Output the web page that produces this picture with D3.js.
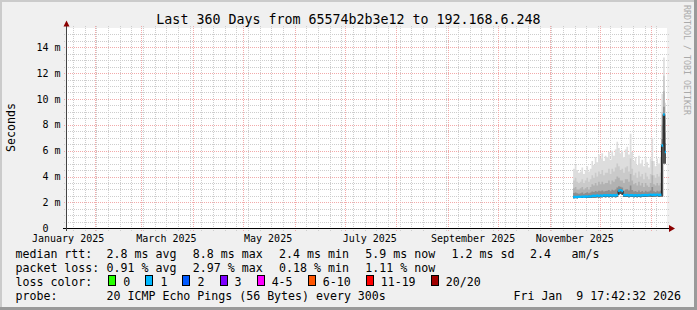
<!DOCTYPE html>
<html><head><meta charset="utf-8">
<script src="https://cdn.jsdelivr.net/npm/d3@7/dist/d3.min.js"></script>
<style>
html,body{margin:0;padding:0;background:#f0f0f0;}
svg{display:block;font-family:"DejaVu Sans Mono",monospace;}
text{white-space:pre;}
</style></head><body>
<svg id="svg" width="697" height="310"></svg>
<script>
// --- data (ms), one value per day from 2025-11-15 ---
var firstDay = "2025-11-15";
var lo  = [2.33,2.34,2.33,2.35,2.34,2.35,2.34,2.36,2.35,2.36,2.35,2.38,2.39,2.38,2.40,2.39,2.41,2.40,2.42,2.40,2.43,2.41,2.42,2.40,2.43,2.41,2.44,2.62,2.66,2.60,2.44,2.42,2.43,2.41,2.43,2.42,2.40,2.42,2.41,2.42,2.40,2.43,2.42,2.44,2.43,2.45,2.46,2.44,2.46,2.45,2.47,2.44,2.46,2.45,5.0,5.0];
var med = [2.42,2.43,2.42,2.44,2.43,2.45,2.44,2.46,2.45,2.47,2.46,2.50,2.52,2.50,2.53,2.51,2.54,2.52,2.55,2.53,2.56,2.54,2.55,2.53,2.56,2.54,2.57,2.90,2.95,2.88,2.58,2.55,2.57,2.54,2.56,2.55,2.53,2.56,2.54,2.55,2.53,2.56,2.55,2.57,2.56,2.58,2.60,2.57,2.59,2.58,2.60,2.57,2.59,6.4,8.8,5.9];
var p60 = [2.72,2.76,2.7,2.68,2.7,2.76,2.68,2.72,2.78,2.7,2.76,2.84,2.8,2.88,2.82,2.9,2.86,2.92,2.84,2.88,2.9,2.96,2.86,2.98,2.92,3.0,3.15,3.25,3.22,3.15,2.9,3.0,3.02,2.92,3.3,2.96,2.84,2.88,2.8,2.92,2.8,2.88,2.78,2.9,2.82,2.84,2.92,3.2,2.86,2.8,2.9,2.84,2.92,6.9,9.4,6.6];
var p75 = [3.1,3.2,3.0,3.0,3.1,3.2,3.0,3.1,3.2,3.0,3.2,3.4,3.3,3.5,3.3,3.6,3.4,3.6,3.4,3.5,3.5,3.7,3.4,3.7,3.6,3.8,4.0,3.9,3.7,3.7,3.5,3.8,3.8,3.6,4.2,3.7,3.4,3.5,3.3,3.6,3.3,3.5,3.2,3.5,3.3,3.2,3.5,4.1,3.4,3.3,3.5,3.3,3.5,8.0,10.6,7.4];
var p90 = [3.7,3.9,3.6,3.5,3.6,3.8,3.5,3.7,3.9,3.6,3.8,4.1,3.9,4.3,4.0,4.4,4.2,4.5,4.1,4.3,4.3,4.6,4.2,4.6,4.4,4.7,5.0,4.8,4.5,4.6,4.3,4.7,4.8,4.4,5.4,4.6,4.1,4.3,3.9,4.4,4.0,4.2,3.8,4.3,4.0,3.8,4.2,5.2,4.1,3.9,4.2,4.0,4.3,9.0,11.8,8.4];
var max = [4.6,4.9,4.5,4.3,4.4,4.7,4.2,4.5,4.8,4.4,4.6,5.2,4.9,5.5,5.1,5.7,5.4,5.8,5.2,5.6,5.5,5.9,5.3,6.0,5.6,6.1,6.7,6.2,5.8,6.0,5.5,6.1,6.3,5.7,7.3,5.9,5.2,5.5,4.9,5.6,5.0,5.3,4.8,5.5,5.1,4.7,5.4,7.0,5.2,4.8,5.4,5.0,5.5,10.4,13.2,9.7];

var yTicks = [0, 2, 4, 6, 8, 10, 12, 14];
var xLabelMonths = ["2025-01-01","2025-03-01","2025-05-01","2025-07-01","2025-09-01","2025-11-01"];

var rttNames = ["avg","max","min","now","sd"], rttStats = [2.8, 8.8, 2.4, 5.9, 1.2], amS = 2.4;
var lossNames = ["avg","max","min","now"], lossStats = [0.91, 2.97, 0.18, 1.11];
var lossLabels = ["0","1","2","3","4-5","6-10","11-19","20/20"],
    lossColors = ["#26ff00","#00b8ff","#0059ff","#7e00ff","#ff00ff","#ff5500","#ff0000","#a00000"];

var title = "Last 360 Days from 65574b2b3e12 to 192.168.6.248",
    probe = "20 ICMP Echo Pings (56 Bytes) every 300s",
    stamp = "Fri Jan  9 17:42:32 2026";

// small stand-in for d3-selection-multi
d3.selection.prototype.attrs = function(m) {
    return this.each(function(d, i, g) {
        var o = typeof m === "function" ? m.call(this, d, i, g) : m, s = d3.select(this);
        for (var k in o) s.attr(k, o[k]);
    });
};

// --- layout ---
var svg = d3.select("#svg");
var tEnd = new Date("2026-01-09T17:42:32Z"),
    tStart = d3.utcDay.offset(tEnd, -360);
var x = d3.scaleUtc().domain([tStart, tEnd]).range([66, 666]),
    y = d3.scaleLinear().domain([0, 15.5]).range([228.3, 27.8]);
var px = v => Math.round(v) + 0.5;

svg.append("rect").attrs({width:697, height:310, fill:"#f0f0f0"});
svg.append("rect").attrs({width:697, height:2, fill:"#cbcbcb"});
svg.append("rect").attrs({width:2, height:310, fill:"#cbcbcb"});
svg.append("rect").attrs({y:307, width:697, height:3, fill:"#9a9a9a"});
svg.append("rect").attrs({x:694, width:3, height:310, fill:"#9a9a9a"});
svg.append("rect").attrs({x:66, y:28, width:601, height:200, fill:"#fff"});

// grid
var grid = svg.append("g").attr("shape-rendering","crispEdges").attr("stroke-dasharray","1,1");
var months = d3.utcMonth.range(d3.utcMonth.ceil(tStart), tEnd),
    weeks = d3.utcSunday.range(tStart, tEnd).filter(d => d.getUTCDate() !== 1);
var minorY = d3.range(0.5, 15.5, 0.5).filter(v => v % 2 !== 0);
grid.selectAll(".hm").data(minorY).enter().append("line")
    .attrs(v => ({x1:64, x2:669, y1:px(y(v)), y2:px(y(v)), stroke:"#cdcdcd"}));
grid.selectAll(".vm").data(weeks).enter().append("line")
    .attrs(d => ({y1:26, y2:231, x1:px(x(d)), x2:px(x(d)), stroke:"#cdcdcd"}));
grid.selectAll(".hM").data(yTicks.filter(v => v > 0)).enter().append("line")
    .attrs(v => ({x1:64, x2:669, y1:px(y(v)), y2:px(y(v)), stroke:"#f2aaaa"}));
grid.selectAll(".vM").data(months).enter().append("line")
    .attrs(d => ({y1:26, y2:231, x1:px(x(d)), x2:px(x(d)), stroke:"#f2aaaa"}));

// smoke
var days = d3.utcDay.range(new Date(firstDay + "T00:00:00Z"), tEnd);
var rows = days.map((t, i) => ({t:t, lo:lo[i], med:med[i], p60:p60[i], p75:p75[i], p90:p90[i], max:max[i]}));
rows.push(Object.assign({}, rows[rows.length - 1], {t:tEnd}));

var bands = [["max","#dddddd"],["p90","#cacaca"],["p75","#b2b2b2"],["p60","#8e8e8e"],["med","#505050"]];
var plot = svg.append("g");
bands.forEach(b => {
    plot.append("path").datum(rows)
        .attr("fill", b[1])
        .attr("d", d3.area().curve(d3.curveStepAfter)
            .x(d => x(d.t)).y0(d => y(d.lo)).y1(d => y(d[b[0]])));
});
plot.append("path").datum(rows)
    .attrs({fill:"none", stroke:"#202020", "stroke-width":1})
    .attr("d", d3.line().curve(d3.curveStepAfter).x(d => x(d.t)).y(d => y(d.med)));
// loss stayed in the "1" bucket the whole time
plot.append("path").datum(rows)
    .attr("fill", lossColors[1])
    .attr("d", d3.area().curve(d3.curveStepAfter)
        .x(d => x(d.t)).y0(d => y(d.med) + 1.2).y1(d => y(d.med) - 1.2));

// axes
var ax = svg.append("g").attr("shape-rendering","crispEdges");
ax.append("line").attrs({x1:63, x2:670, y1:228.5, y2:228.5, stroke:"#000"});
ax.append("line").attrs({x1:66.5, x2:66.5, y1:231, y2:25, stroke:"#444"});
svg.append("path").attrs({d:"M63.5,26.5L69.5,26.5L66.5,20.5Z", fill:"#8b0000"});
svg.append("path").attrs({d:"M669,225L669,232L675,228.5Z", fill:"#8b0000"});

var fmtM = d3.utcFormat("%B %Y");
svg.selectAll(".xl").data(xLabelMonths).enter().append("text")
    .attrs(d => ({x:x(d3.utcDay.offset(new Date(d + "T00:00:00Z"), 15)), y:241.5, "text-anchor":"middle", "font-size":"10px"}))
    .text(d => fmtM(new Date(d + "T00:00:00Z")));
svg.selectAll(".yl").data(yTicks).enter().append("text")
    .attrs(v => ({x:60.5, y:y(v), dy:"0.36em", "text-anchor":"end", "font-size":"10px"}))
    .attr("xml:space","preserve")
    .text(v => v ? v + " m" : "0  ");

svg.append("text").attrs({x:348.5, y:24, "text-anchor":"middle", "font-size":"13.3px"}).text(title);
svg.append("text").attrs({transform:"translate(14.5,127.5) rotate(-90)", "text-anchor":"middle", "font-size":"11.6px"}).text("Seconds");
svg.append("text").attrs({transform:"translate(684,5) rotate(90)", "font-size":"8.3px", fill:"#aaaaaa"}).text("RRDTOOL / TOBI OETIKER");

// legend
var lg = svg.append("g").attr("font-size","11.6px").attr("xml:space","preserve");
var col = i => 106.6 + i * 86.25;
lg.append("text").attrs({x:15.5, y:258.3}).text("median rtt:");
rttStats.forEach((v, i) => lg.append("text").attrs({x:col(i), y:258.3}).text(d3.format(".1f")(v) + " ms " + rttNames[i]));
lg.append("text").attrs({x:530, y:258.3}).text(d3.format(".1f")(amS));
lg.append("text").attrs({x:571.6, y:258.3}).text("am/s");
lg.append("text").attrs({x:15.5, y:272.2}).text("packet loss:");
lossStats.forEach((v, i) => lg.append("text").attrs({x:col(i), y:272.2}).text(d3.format(".2f")(v) + " % " + lossNames[i]));
lg.append("text").attrs({x:15.5, y:286.1}).text("loss color:");
var lx = 108.3;
lossLabels.forEach((l, i) => {
    lg.append("rect").attrs({x:lx + 0.5, y:275.5, width:7, height:10, fill:lossColors[i], stroke:"#000"}).attr("shape-rendering","crispEdges");
    var t = lg.append("text").attrs({x:lx + 15, y:286.1}).text(l);
    lx += 15 + t.node().getComputedTextLength() + 15.1;
});
lg.append("text").attrs({x:15.5, y:300}).text("probe:");
lg.append("text").attrs({x:106.6, y:300}).text(probe);
lg.append("text").attrs({x:681, y:300, "text-anchor":"end"}).text(stamp);
</script>
</body></html>
